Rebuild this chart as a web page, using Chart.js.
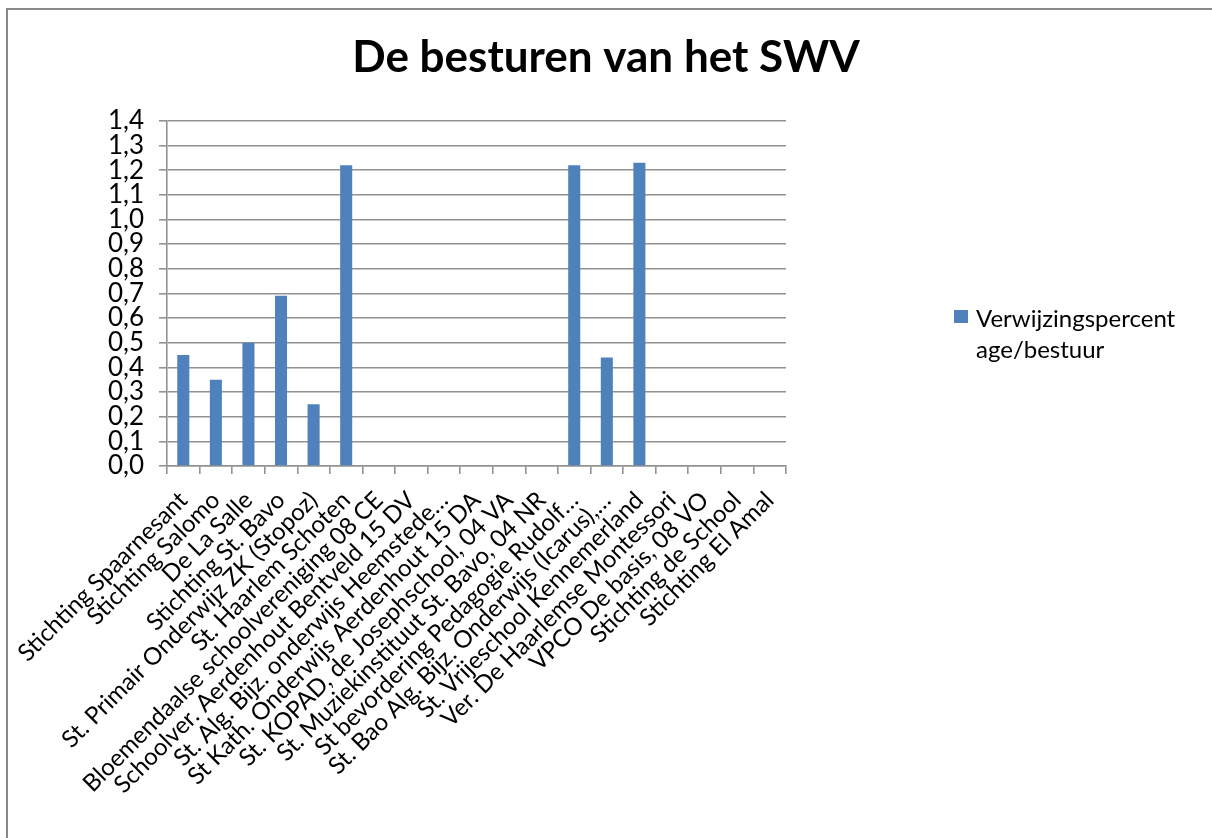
<!DOCTYPE html>
<html lang="nl">
<head>
    <meta charset="UTF-8">
    <title>De besturen van het SWV</title>
    <script src="https://cdn.jsdelivr.net/npm/chart.js"></script>
    <style>
        body { margin: 0; background: #fff; overflow: hidden; }
        #wrap { width: 1212px; height: 838px; }
    </style>
</head>
<body>
<div id="wrap"><canvas id="chart"></canvas></div>
<script>
    const titleText = 'De besturen van het SWV';
    const seriesName = ['Verwijzingspercent', 'age/bestuur'];

    const besturen = [
        'Stichting Spaarnesant',
        'Stichting Salomo',
        'De La Salle',
        'Stichting St. Bavo',
        'St. Primair Onderwijz ZK (Stopoz)',
        'St. Haarlem Schoten',
        'Bloemendaalse schoolvereniging 08 CE',
        'Schoolver. Aerdenhout Bentveld 15 DV',
        'St. Alg. Bijz. onderwijs Heemstede…',
        'St Kath. Onderwijs Aerdenhout 15 DA',
        'St. KOPAD, de Josephschool, 04 VA',
        'St. Muziekinstituut St. Bavo, 04 NR',
        'St bevordering Pedagogie Rudolf…',
        'St. Bao Alg. Bijz. Onderwijs (Icarus),…',
        'St. Vrijeschool Kennemerland',
        'Ver. De Haarlemse Montessori',
        'VPCO De basis, 08 VO',
        'Stichting de School',
        'Stichting El Amal'
    ];

    // verwijzingspercentage per bestuur (lege cellen = null)
    const percentages = [0.45, 0.35, 0.50, 0.69, 0.25, 1.22, null, null, null, null, null, null, 1.22, 0.44, 1.23, null, null, null, null];

    const yMin = 0;
    const yMax = 1.4;
    const yStep = 0.1;

    const barColor = '#4F81BD';
    const gridColor = '#929292';
    const fontFamily = 'Lato, "Open Sans", sans-serif';

    // grey frame round the chart
    const framePlugin = {
        id: 'frame',
        beforeDraw(chart) {
            const ctx = chart.ctx;
            ctx.save();
            ctx.fillStyle = '#fff';
            ctx.fillRect(0, 0, chart.width, chart.height);
            ctx.strokeStyle = '#888';
            ctx.lineWidth = 2;
            ctx.beginPath();
            ctx.moveTo(7, chart.height);
            ctx.lineTo(7, 9);
            ctx.lineTo(chart.width, 9);
            ctx.stroke();
            ctx.restore();
        }
    };

    // legend on the right, text wrapped over two lines like the original
    const legendPlugin = {
        id: 'sideLegend',
        afterDraw(chart) {
            const ctx = chart.ctx;
            const x = chart.chartArea.right + 168;
            const y = 310;
            ctx.save();
            ctx.fillStyle = barColor;
            ctx.fillRect(x, y, 14, 13);
            ctx.fillStyle = '#000';
            ctx.font = '24px ' + fontFamily;
            ctx.textBaseline = 'alphabetic';
            seriesName.forEach((line, i) => {
                ctx.fillText(line, x + 22, y + 17 + i * 31);
            });
            ctx.restore();
        }
    };

    new Chart(document.getElementById('chart'), {
        type: 'bar',
        data: {
            labels: besturen,
            datasets: [{
                label: seriesName.join(''),
                data: percentages,
                backgroundColor: barColor,
                borderWidth: 0,
                barPercentage: 0.37,
                categoryPercentage: 1.0
            }]
        },
        options: {
            responsive: true,
            maintainAspectRatio: false,
            animation: false,
            layout: { padding: 0 },
            plugins: {
                legend: { display: false },
                tooltip: { enabled: false },
                title: {
                    display: true,
                    text: titleText,
                    color: '#000',
                    font: { family: fontFamily, size: 44, weight: 'bold' },
                    padding: { top: 31, bottom: 37 }
                }
            },
            scales: {
                x: {
                    grid: {
                        display: true,
                        offset: true,
                        drawOnChartArea: false,
                        drawTicks: true,
                        tickLength: 8,
                        lineWidth: 1.6,
                        color: gridColor
                    },
                    border: { display: true, color: gridColor, width: 1.6 },
                    ticks: {
                        autoSkip: false,
                        minRotation: 45,
                        maxRotation: 45,
                        padding: 12,
                        color: '#000',
                        font: { family: fontFamily, size: 24 }
                    },
                    afterFit(scale) { scale.height = 372; }
                },
                y: {
                    min: yMin,
                    max: yMax,
                    grid: {
                        color: gridColor,
                        lineWidth: 1.6,
                        drawTicks: true,
                        tickLength: 8
                    },
                    border: { display: true, color: gridColor, width: 1.6 },
                    ticks: {
                        stepSize: yStep,
                        autoSkip: false,
                        padding: 15,
                        color: '#000',
                        font: { family: fontFamily, size: 26 },
                        callback: (v) => v.toFixed(1).replace('.', ',')
                    },
                    afterFit(scale) { scale.width = 167; }
                },
                // lege ruimte rechts voor de legenda
                side: {
                    type: 'linear',
                    position: 'right',
                    grid: { display: false, drawTicks: false },
                    border: { display: false },
                    ticks: { display: false },
                    afterFit(scale) { scale.width = 426; }
                }
            }
        },
        plugins: [framePlugin, legendPlugin]
    });
</script>
</body>
</html>
